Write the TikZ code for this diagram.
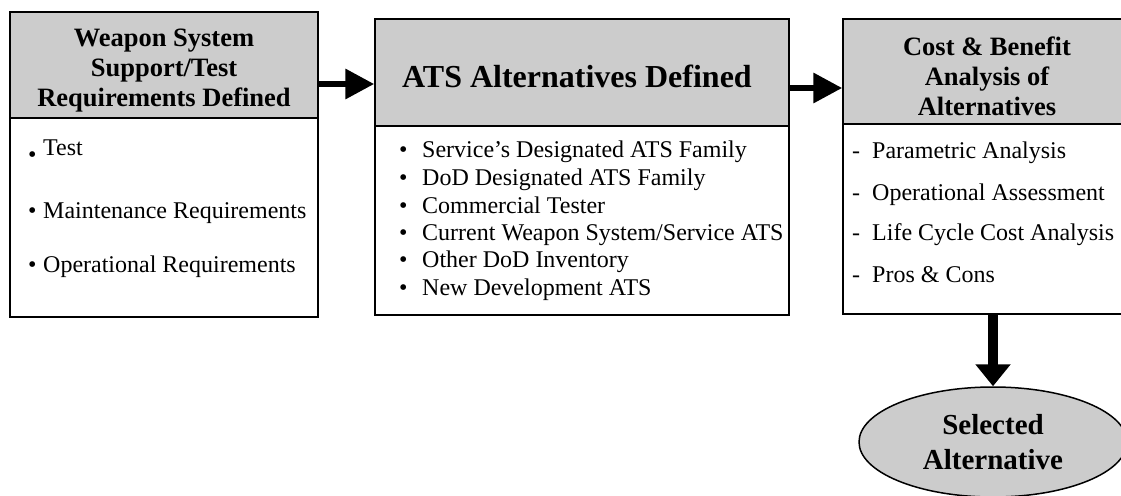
\documentclass[tikz,border=0pt]{standalone}
\usepackage{fontspec}
\setmainfont{Liberation Serif}
\usetikzlibrary{arrows.meta,shapes.geometric}
\definecolor{hdrgray}{RGB}{204,204,204}
\tikzset{
  boxline/.style={draw=black, line width=1.5pt, inner sep=0pt, rectangle},
  hdrbox/.style={boxline, fill=hdrgray},
  bodybox/.style={boxline, fill=white},
  hdrtext/.style={inner sep=0pt, align=center, font=\bfseries\fontsize{26.5}{30}\selectfont},
  bigtext/.style={inner sep=0pt, font=\bfseries\fontsize{32}{36}\selectfont},
  itemtext/.style={inner sep=0pt, anchor=base west, font=\fontsize{24}{27.5}\selectfont},
  harrow/.style={line width=6.5pt, -{Triangle[length=29pt,width=29pt]}},
  varrow/.style={line width=10pt, -{Triangle[length=22pt,width=34pt]}},
  ellbox/.style={ellipse, draw=black, line width=1.5pt, fill=hdrgray, inner sep=0pt,
    align=center, font=\bfseries\fontsize{29}{35}\selectfont}
}
\begin{document}
\begin{tikzpicture}[x=1pt,y=-1pt]
\useasboundingbox (0,0) rectangle (1121,495);
\clip (0,0) rectangle (1121,495);
\fill[white] (0,0) rectangle (1121,495);

% Box 1
\node[bodybox, minimum width=308pt, minimum height=199pt] (b1) at (164,217.5) {};
\node[hdrbox, minimum width=308pt, minimum height=106pt] (h1) at (164,65) {};
\node[hdrtext] (t1) at (164,71) {Weapon System\\Support/Test\\Requirements Defined};
\node[itemtext] (i11) at (28,155) {\makebox[15pt][l]{\raisebox{-0.3em}{\textbullet}}Test};
\node[itemtext] (i12) at (28,218) {\makebox[15pt][l]{\textbullet}Maintenance Requirements};
\node[itemtext] (i13) at (28,272) {\makebox[15pt][l]{\textbullet}Operational Requirements};

% Box 2
\node[bodybox, minimum width=414pt, minimum height=189pt] (b2) at (582,220.5) {};
\node[hdrbox, minimum width=414pt, minimum height=107pt] (h2) at (582,72.5) {};
\node[bigtext, anchor=base] (t2) at (577,88) {ATS Alternatives Defined};
\node[itemtext] (i21) at (399,157) {\makebox[23pt][l]{\textbullet}Service’s Designated ATS Family};
\node[itemtext] (i22) at (399,185) {\makebox[23pt][l]{\textbullet}DoD Designated ATS Family};
\node[itemtext] (i23) at (399,213) {\makebox[23pt][l]{\textbullet}Commercial Tester};
\node[itemtext] (i24) at (399,240) {\makebox[23pt][l]{\textbullet}Current Weapon System/Service ATS};
\node[itemtext] (i25) at (399,267) {\makebox[23pt][l]{\textbullet}Other DoD Inventory};
\node[itemtext] (i26) at (399,295) {\makebox[23pt][l]{\textbullet}New Development ATS};

% Box 3
\node[bodybox, minimum width=287pt, minimum height=190pt] (b3) at (986.5,219) {};
\node[hdrbox, minimum width=287pt, minimum height=105pt] (h3) at (986.5,71.5) {};
\node[hdrtext] (t3) at (987,76) {Cost \& Benefit\\Analysis of\\Alternatives};
\node[itemtext] (i31) at (852,158) {\makebox[20pt][l]{-}Parametric Analysis};
\node[itemtext] (i32) at (852,200) {\makebox[20pt][l]{-}Operational Assessment};
\node[itemtext] (i33) at (852,240) {\makebox[20pt][l]{-}Life Cycle Cost Analysis};
\node[itemtext] (i34) at (852,282) {\makebox[20pt][l]{-}Pros \& Cons};

% Result
\node[ellbox, minimum width=268pt, minimum height=110pt] (ell) at (993,442) {Selected\\Alternative};

% Connectors
\coordinate (a1) at (0,84);
\coordinate (a2) at (0,88);
\draw[harrow] (h1.east |- a1) -- (h2.west |- a1);
\draw[harrow] (h2.east |- a2) -- (h3.west |- a2);
\draw[varrow] (ell.north |- b3.south) -- (ell.north);
\end{tikzpicture}
\end{document}
